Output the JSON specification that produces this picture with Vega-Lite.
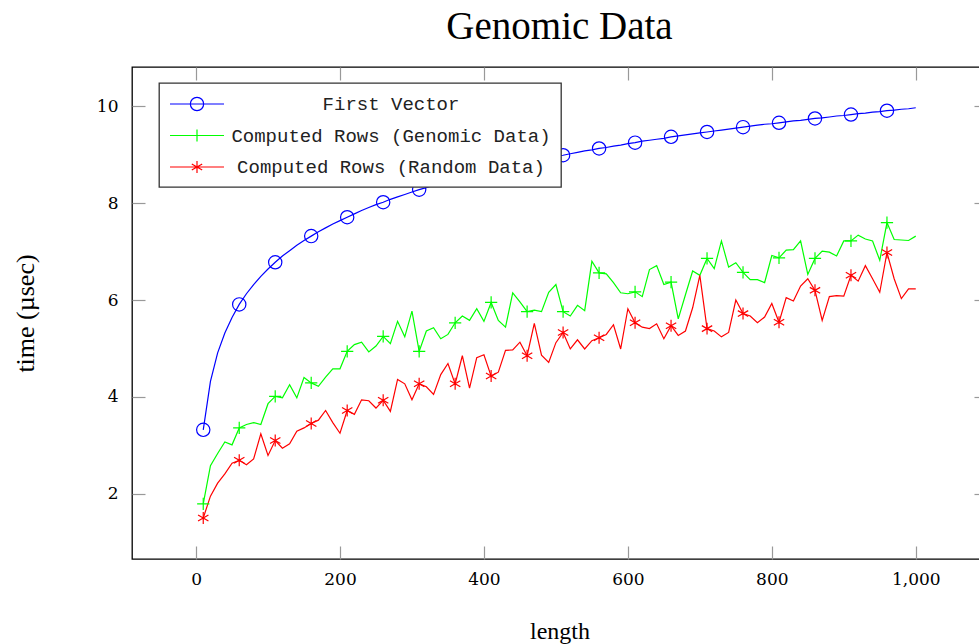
{
  "$schema": "https://vega.github.io/schema/vega-lite/v6.json",
  "width": 855,
  "height": 492,
  "autosize": {"type": "none"},
  "padding": {"left": 132, "top": 67, "right": -8, "bottom": 85},
  "background": "white",
  "title": {"text": "Genomic Data", "font": "Liberation Serif", "fontSize": 39, "fontWeight": "normal", "color": "black", "anchor": "middle", "frame": "group", "baseline": "alphabetic", "offset": -12},
  "config": {
    "view": {"stroke": "black", "strokeWidth": 1.3},
    "axis": {"grid": false, "domain": false, "minExtent": 0, "maxExtent": 200, "tickSize": -13, "tickColor": "#999999", "tickWidth": 1.2, "labelFont": "DejaVu Serif", "labelFontSize": 17, "labelColor": "black", "titleFont": "Liberation Serif", "titleFontSize": 24, "titleFontWeight": "normal", "titleColor": "black"}
  },
  "data": {"values": [
    {"x":10,"s":"First Vector","t":3.32},{"x":20,"s":"First Vector","t":4.32},{"x":30,"s":"First Vector","t":4.91},{"x":40,"s":"First Vector","t":5.32},{"x":50,"s":"First Vector","t":5.64},{"x":60,"s":"First Vector","t":5.91},{"x":70,"s":"First Vector","t":6.13},{"x":80,"s":"First Vector","t":6.32},{"x":90,"s":"First Vector","t":6.49},{"x":100,"s":"First Vector","t":6.64},
    {"x":110,"s":"First Vector","t":6.78},{"x":120,"s":"First Vector","t":6.91},{"x":130,"s":"First Vector","t":7.02},{"x":140,"s":"First Vector","t":7.13},{"x":150,"s":"First Vector","t":7.23},{"x":160,"s":"First Vector","t":7.32},{"x":170,"s":"First Vector","t":7.41},{"x":180,"s":"First Vector","t":7.49},{"x":190,"s":"First Vector","t":7.57},{"x":200,"s":"First Vector","t":7.64},
    {"x":210,"s":"First Vector","t":7.71},{"x":220,"s":"First Vector","t":7.78},{"x":230,"s":"First Vector","t":7.85},{"x":240,"s":"First Vector","t":7.91},{"x":250,"s":"First Vector","t":7.97},{"x":260,"s":"First Vector","t":8.02},{"x":270,"s":"First Vector","t":8.08},{"x":280,"s":"First Vector","t":8.13},{"x":290,"s":"First Vector","t":8.18},{"x":300,"s":"First Vector","t":8.23},
    {"x":310,"s":"First Vector","t":8.28},{"x":320,"s":"First Vector","t":8.32},{"x":330,"s":"First Vector","t":8.37},{"x":340,"s":"First Vector","t":8.41},{"x":350,"s":"First Vector","t":8.45},{"x":360,"s":"First Vector","t":8.49},{"x":370,"s":"First Vector","t":8.53},{"x":380,"s":"First Vector","t":8.57},{"x":390,"s":"First Vector","t":8.61},{"x":400,"s":"First Vector","t":8.64},
    {"x":410,"s":"First Vector","t":8.68},{"x":420,"s":"First Vector","t":8.71},{"x":430,"s":"First Vector","t":8.75},{"x":440,"s":"First Vector","t":8.78},{"x":450,"s":"First Vector","t":8.81},{"x":460,"s":"First Vector","t":8.85},{"x":470,"s":"First Vector","t":8.88},{"x":480,"s":"First Vector","t":8.91},{"x":490,"s":"First Vector","t":8.94},{"x":500,"s":"First Vector","t":8.97},
    {"x":510,"s":"First Vector","t":8.99},{"x":520,"s":"First Vector","t":9.02},{"x":530,"s":"First Vector","t":9.05},{"x":540,"s":"First Vector","t":9.08},{"x":550,"s":"First Vector","t":9.10},{"x":560,"s":"First Vector","t":9.13},{"x":570,"s":"First Vector","t":9.15},{"x":580,"s":"First Vector","t":9.18},{"x":590,"s":"First Vector","t":9.20},{"x":600,"s":"First Vector","t":9.23},
    {"x":610,"s":"First Vector","t":9.25},{"x":620,"s":"First Vector","t":9.28},{"x":630,"s":"First Vector","t":9.30},{"x":640,"s":"First Vector","t":9.32},{"x":650,"s":"First Vector","t":9.34},{"x":660,"s":"First Vector","t":9.37},{"x":670,"s":"First Vector","t":9.39},{"x":680,"s":"First Vector","t":9.41},{"x":690,"s":"First Vector","t":9.43},{"x":700,"s":"First Vector","t":9.45},
    {"x":710,"s":"First Vector","t":9.47},{"x":720,"s":"First Vector","t":9.49},{"x":730,"s":"First Vector","t":9.51},{"x":740,"s":"First Vector","t":9.53},{"x":750,"s":"First Vector","t":9.55},{"x":760,"s":"First Vector","t":9.57},{"x":770,"s":"First Vector","t":9.59},{"x":780,"s":"First Vector","t":9.61},{"x":790,"s":"First Vector","t":9.63},{"x":800,"s":"First Vector","t":9.64},
    {"x":810,"s":"First Vector","t":9.66},{"x":820,"s":"First Vector","t":9.68},{"x":830,"s":"First Vector","t":9.70},{"x":840,"s":"First Vector","t":9.71},{"x":850,"s":"First Vector","t":9.73},{"x":860,"s":"First Vector","t":9.75},{"x":870,"s":"First Vector","t":9.76},{"x":880,"s":"First Vector","t":9.78},{"x":890,"s":"First Vector","t":9.80},{"x":900,"s":"First Vector","t":9.81},
    {"x":910,"s":"First Vector","t":9.83},{"x":920,"s":"First Vector","t":9.85},{"x":930,"s":"First Vector","t":9.86},{"x":940,"s":"First Vector","t":9.88},{"x":950,"s":"First Vector","t":9.89},{"x":960,"s":"First Vector","t":9.91},{"x":970,"s":"First Vector","t":9.92},{"x":980,"s":"First Vector","t":9.94},{"x":990,"s":"First Vector","t":9.95},{"x":1000,"s":"First Vector","t":9.97},

    {"x":10,"s":"Computed Rows (Genomic Data)","t":1.79},{"x":20,"s":"Computed Rows (Genomic Data)","t":2.58},{"x":30,"s":"Computed Rows (Genomic Data)","t":2.83},{"x":40,"s":"Computed Rows (Genomic Data)","t":3.07},{"x":50,"s":"Computed Rows (Genomic Data)","t":3.01},{"x":60,"s":"Computed Rows (Genomic Data)","t":3.36},{"x":70,"s":"Computed Rows (Genomic Data)","t":3.43},{"x":80,"s":"Computed Rows (Genomic Data)","t":3.47},{"x":90,"s":"Computed Rows (Genomic Data)","t":3.43},{"x":100,"s":"Computed Rows (Genomic Data)","t":3.86},
    {"x":110,"s":"Computed Rows (Genomic Data)","t":4.01},{"x":120,"s":"Computed Rows (Genomic Data)","t":3.98},{"x":130,"s":"Computed Rows (Genomic Data)","t":4.25},{"x":140,"s":"Computed Rows (Genomic Data)","t":3.98},{"x":150,"s":"Computed Rows (Genomic Data)","t":4.40},{"x":160,"s":"Computed Rows (Genomic Data)","t":4.29},{"x":170,"s":"Computed Rows (Genomic Data)","t":4.22},{"x":180,"s":"Computed Rows (Genomic Data)","t":4.41},{"x":190,"s":"Computed Rows (Genomic Data)","t":4.58},{"x":200,"s":"Computed Rows (Genomic Data)","t":4.58},
    {"x":210,"s":"Computed Rows (Genomic Data)","t":4.94},{"x":220,"s":"Computed Rows (Genomic Data)","t":5.08},{"x":230,"s":"Computed Rows (Genomic Data)","t":5.13},{"x":240,"s":"Computed Rows (Genomic Data)","t":4.93},{"x":250,"s":"Computed Rows (Genomic Data)","t":5.05},{"x":260,"s":"Computed Rows (Genomic Data)","t":5.25},{"x":270,"s":"Computed Rows (Genomic Data)","t":5.10},{"x":280,"s":"Computed Rows (Genomic Data)","t":5.56},{"x":290,"s":"Computed Rows (Genomic Data)","t":5.24},{"x":300,"s":"Computed Rows (Genomic Data)","t":5.77},
    {"x":310,"s":"Computed Rows (Genomic Data)","t":4.94},{"x":320,"s":"Computed Rows (Genomic Data)","t":5.36},{"x":330,"s":"Computed Rows (Genomic Data)","t":5.43},{"x":340,"s":"Computed Rows (Genomic Data)","t":5.20},{"x":350,"s":"Computed Rows (Genomic Data)","t":5.29},{"x":360,"s":"Computed Rows (Genomic Data)","t":5.53},{"x":370,"s":"Computed Rows (Genomic Data)","t":5.67},{"x":380,"s":"Computed Rows (Genomic Data)","t":5.58},{"x":390,"s":"Computed Rows (Genomic Data)","t":5.82},{"x":400,"s":"Computed Rows (Genomic Data)","t":5.56},
    {"x":410,"s":"Computed Rows (Genomic Data)","t":5.95},{"x":420,"s":"Computed Rows (Genomic Data)","t":5.58},{"x":430,"s":"Computed Rows (Genomic Data)","t":5.44},{"x":440,"s":"Computed Rows (Genomic Data)","t":6.15},{"x":450,"s":"Computed Rows (Genomic Data)","t":5.96},{"x":460,"s":"Computed Rows (Genomic Data)","t":5.76},{"x":470,"s":"Computed Rows (Genomic Data)","t":5.79},{"x":480,"s":"Computed Rows (Genomic Data)","t":5.76},{"x":490,"s":"Computed Rows (Genomic Data)","t":6.16},{"x":500,"s":"Computed Rows (Genomic Data)","t":6.32},
    {"x":510,"s":"Computed Rows (Genomic Data)","t":5.76},{"x":520,"s":"Computed Rows (Genomic Data)","t":5.67},{"x":530,"s":"Computed Rows (Genomic Data)","t":5.89},{"x":540,"s":"Computed Rows (Genomic Data)","t":5.78},{"x":550,"s":"Computed Rows (Genomic Data)","t":6.80},{"x":560,"s":"Computed Rows (Genomic Data)","t":6.56},{"x":570,"s":"Computed Rows (Genomic Data)","t":6.54},{"x":580,"s":"Computed Rows (Genomic Data)","t":6.36},{"x":590,"s":"Computed Rows (Genomic Data)","t":6.15},{"x":600,"s":"Computed Rows (Genomic Data)","t":6.13},
    {"x":610,"s":"Computed Rows (Genomic Data)","t":6.17},{"x":620,"s":"Computed Rows (Genomic Data)","t":6.07},{"x":630,"s":"Computed Rows (Genomic Data)","t":6.63},{"x":640,"s":"Computed Rows (Genomic Data)","t":6.71},{"x":650,"s":"Computed Rows (Genomic Data)","t":6.32},{"x":660,"s":"Computed Rows (Genomic Data)","t":6.37},{"x":670,"s":"Computed Rows (Genomic Data)","t":5.61},{"x":680,"s":"Computed Rows (Genomic Data)","t":6.11},{"x":690,"s":"Computed Rows (Genomic Data)","t":6.60},{"x":700,"s":"Computed Rows (Genomic Data)","t":6.51},
    {"x":710,"s":"Computed Rows (Genomic Data)","t":6.86},{"x":720,"s":"Computed Rows (Genomic Data)","t":6.65},{"x":730,"s":"Computed Rows (Genomic Data)","t":7.22},{"x":740,"s":"Computed Rows (Genomic Data)","t":6.68},{"x":750,"s":"Computed Rows (Genomic Data)","t":6.77},{"x":760,"s":"Computed Rows (Genomic Data)","t":6.57},{"x":770,"s":"Computed Rows (Genomic Data)","t":6.42},{"x":780,"s":"Computed Rows (Genomic Data)","t":6.42},{"x":790,"s":"Computed Rows (Genomic Data)","t":6.36},{"x":800,"s":"Computed Rows (Genomic Data)","t":6.92},
    {"x":810,"s":"Computed Rows (Genomic Data)","t":6.87},{"x":820,"s":"Computed Rows (Genomic Data)","t":7.03},{"x":830,"s":"Computed Rows (Genomic Data)","t":7.04},{"x":840,"s":"Computed Rows (Genomic Data)","t":7.22},{"x":850,"s":"Computed Rows (Genomic Data)","t":6.53},{"x":860,"s":"Computed Rows (Genomic Data)","t":6.86},{"x":870,"s":"Computed Rows (Genomic Data)","t":7.01},{"x":880,"s":"Computed Rows (Genomic Data)","t":6.99},{"x":890,"s":"Computed Rows (Genomic Data)","t":6.91},{"x":900,"s":"Computed Rows (Genomic Data)","t":7.22},
    {"x":910,"s":"Computed Rows (Genomic Data)","t":7.22},{"x":920,"s":"Computed Rows (Genomic Data)","t":7.34},{"x":930,"s":"Computed Rows (Genomic Data)","t":7.26},{"x":940,"s":"Computed Rows (Genomic Data)","t":7.22},{"x":950,"s":"Computed Rows (Genomic Data)","t":6.82},{"x":960,"s":"Computed Rows (Genomic Data)","t":7.60},{"x":970,"s":"Computed Rows (Genomic Data)","t":7.25},{"x":980,"s":"Computed Rows (Genomic Data)","t":7.24},{"x":990,"s":"Computed Rows (Genomic Data)","t":7.23},{"x":1000,"s":"Computed Rows (Genomic Data)","t":7.32},

    {"x":10,"s":"Computed Rows (Random Data)","t":1.50},{"x":20,"s":"Computed Rows (Random Data)","t":1.95},{"x":30,"s":"Computed Rows (Random Data)","t":2.22},{"x":40,"s":"Computed Rows (Random Data)","t":2.41},{"x":50,"s":"Computed Rows (Random Data)","t":2.63},{"x":60,"s":"Computed Rows (Random Data)","t":2.69},{"x":70,"s":"Computed Rows (Random Data)","t":2.60},{"x":80,"s":"Computed Rows (Random Data)","t":2.72},{"x":90,"s":"Computed Rows (Random Data)","t":3.24},{"x":100,"s":"Computed Rows (Random Data)","t":2.79},
    {"x":110,"s":"Computed Rows (Random Data)","t":3.10},{"x":120,"s":"Computed Rows (Random Data)","t":2.94},{"x":130,"s":"Computed Rows (Random Data)","t":3.03},{"x":140,"s":"Computed Rows (Random Data)","t":3.29},{"x":150,"s":"Computed Rows (Random Data)","t":3.36},{"x":160,"s":"Computed Rows (Random Data)","t":3.45},{"x":170,"s":"Computed Rows (Random Data)","t":3.52},{"x":180,"s":"Computed Rows (Random Data)","t":3.72},{"x":190,"s":"Computed Rows (Random Data)","t":3.47},{"x":200,"s":"Computed Rows (Random Data)","t":3.25},
    {"x":210,"s":"Computed Rows (Random Data)","t":3.72},{"x":220,"s":"Computed Rows (Random Data)","t":3.64},{"x":230,"s":"Computed Rows (Random Data)","t":3.94},{"x":240,"s":"Computed Rows (Random Data)","t":3.92},{"x":250,"s":"Computed Rows (Random Data)","t":3.77},{"x":260,"s":"Computed Rows (Random Data)","t":3.93},{"x":270,"s":"Computed Rows (Random Data)","t":3.70},{"x":280,"s":"Computed Rows (Random Data)","t":4.36},{"x":290,"s":"Computed Rows (Random Data)","t":4.27},{"x":300,"s":"Computed Rows (Random Data)","t":3.94},
    {"x":310,"s":"Computed Rows (Random Data)","t":4.27},{"x":320,"s":"Computed Rows (Random Data)","t":4.21},{"x":330,"s":"Computed Rows (Random Data)","t":4.05},{"x":340,"s":"Computed Rows (Random Data)","t":4.46},{"x":350,"s":"Computed Rows (Random Data)","t":4.69},{"x":360,"s":"Computed Rows (Random Data)","t":4.27},{"x":370,"s":"Computed Rows (Random Data)","t":4.85},{"x":380,"s":"Computed Rows (Random Data)","t":4.18},{"x":390,"s":"Computed Rows (Random Data)","t":4.81},{"x":400,"s":"Computed Rows (Random Data)","t":4.87},
    {"x":410,"s":"Computed Rows (Random Data)","t":4.43},{"x":420,"s":"Computed Rows (Random Data)","t":4.51},{"x":430,"s":"Computed Rows (Random Data)","t":4.96},{"x":440,"s":"Computed Rows (Random Data)","t":4.97},{"x":450,"s":"Computed Rows (Random Data)","t":5.13},{"x":460,"s":"Computed Rows (Random Data)","t":4.85},{"x":470,"s":"Computed Rows (Random Data)","t":5.52},{"x":480,"s":"Computed Rows (Random Data)","t":4.86},{"x":490,"s":"Computed Rows (Random Data)","t":4.71},{"x":500,"s":"Computed Rows (Random Data)","t":5.12},
    {"x":510,"s":"Computed Rows (Random Data)","t":5.33},{"x":520,"s":"Computed Rows (Random Data)","t":4.99},{"x":530,"s":"Computed Rows (Random Data)","t":5.18},{"x":540,"s":"Computed Rows (Random Data)","t":4.99},{"x":550,"s":"Computed Rows (Random Data)","t":5.16},{"x":560,"s":"Computed Rows (Random Data)","t":5.22},{"x":570,"s":"Computed Rows (Random Data)","t":5.29},{"x":580,"s":"Computed Rows (Random Data)","t":5.49},{"x":590,"s":"Computed Rows (Random Data)","t":4.99},{"x":600,"s":"Computed Rows (Random Data)","t":5.82},
    {"x":610,"s":"Computed Rows (Random Data)","t":5.53},{"x":620,"s":"Computed Rows (Random Data)","t":5.44},{"x":630,"s":"Computed Rows (Random Data)","t":5.41},{"x":640,"s":"Computed Rows (Random Data)","t":5.51},{"x":650,"s":"Computed Rows (Random Data)","t":5.20},{"x":660,"s":"Computed Rows (Random Data)","t":5.47},{"x":670,"s":"Computed Rows (Random Data)","t":5.27},{"x":680,"s":"Computed Rows (Random Data)","t":5.36},{"x":690,"s":"Computed Rows (Random Data)","t":5.84},{"x":700,"s":"Computed Rows (Random Data)","t":6.51},
    {"x":710,"s":"Computed Rows (Random Data)","t":5.41},{"x":720,"s":"Computed Rows (Random Data)","t":5.36},{"x":730,"s":"Computed Rows (Random Data)","t":5.24},{"x":740,"s":"Computed Rows (Random Data)","t":5.33},{"x":750,"s":"Computed Rows (Random Data)","t":6.00},{"x":760,"s":"Computed Rows (Random Data)","t":5.72},{"x":770,"s":"Computed Rows (Random Data)","t":5.67},{"x":780,"s":"Computed Rows (Random Data)","t":5.53},{"x":790,"s":"Computed Rows (Random Data)","t":5.65},{"x":800,"s":"Computed Rows (Random Data)","t":5.93},
    {"x":810,"s":"Computed Rows (Random Data)","t":5.54},{"x":820,"s":"Computed Rows (Random Data)","t":6.05},{"x":830,"s":"Computed Rows (Random Data)","t":5.98},{"x":840,"s":"Computed Rows (Random Data)","t":6.29},{"x":850,"s":"Computed Rows (Random Data)","t":6.44},{"x":860,"s":"Computed Rows (Random Data)","t":6.20},{"x":870,"s":"Computed Rows (Random Data)","t":5.58},{"x":880,"s":"Computed Rows (Random Data)","t":6.07},{"x":890,"s":"Computed Rows (Random Data)","t":6.09},{"x":900,"s":"Computed Rows (Random Data)","t":6.08},
    {"x":910,"s":"Computed Rows (Random Data)","t":6.51},{"x":920,"s":"Computed Rows (Random Data)","t":6.39},{"x":930,"s":"Computed Rows (Random Data)","t":6.71},{"x":940,"s":"Computed Rows (Random Data)","t":6.44},{"x":950,"s":"Computed Rows (Random Data)","t":6.16},{"x":960,"s":"Computed Rows (Random Data)","t":6.98},{"x":970,"s":"Computed Rows (Random Data)","t":6.44},{"x":980,"s":"Computed Rows (Random Data)","t":6.03},{"x":990,"s":"Computed Rows (Random Data)","t":6.23},{"x":1000,"s":"Computed Rows (Random Data)","t":6.23}
  ]},
  "layer": [
    {
      "mark": {"type": "line", "strokeWidth": 1.2, "clip": true},
      "encoding": {
        "x": {"field": "x", "type": "quantitative", "scale": {"domain": [-89, 1099], "nice": false, "zero": false},
              "axis": {"orient": "bottom", "values": [0, 200, 400, 600, 800, 1000], "labelPadding": 25, "title": "length", "titleY": 79, "titleBaseline": "alphabetic"}},
        "y": {"field": "t", "type": "quantitative", "scale": {"domain": [0.653, 10.812], "nice": false, "zero": false},
              "axis": {"orient": "left", "values": [2, 4, 6, 8, 10], "labelPadding": 27, "title": "time (µsec)", "titleFontSize": 26, "titleX": -99, "titleBaseline": "alphabetic"}},
        "color": {"field": "s", "type": "nominal", "sort": null,
                  "scale": {"domain": ["First Vector", "Computed Rows (Genomic Data)", "Computed Rows (Random Data)"], "range": ["#0000ff", "#00ff00", "#ff0000"]},
                  "legend": {"orient": "none", "legendX": 27, "legendY": 16, "title": null, "padding": 10,
                             "fillColor": "white", "strokeColor": "#333333",
                             "symbolSize": 400, "symbolStrokeWidth": 1.2, "rowPadding": 10.5,
                             "labelFont": "Liberation Mono", "labelFontSize": 19, "labelColor": "#222222", "labelAlign": "center", "labelOffset": 200, "labelLimit": 600,
                             "encode": {
                               "legend": {"update": {"strokeWidth": {"value": 1.3}}},
                               "symbols": {"update": {
                               "fill": {"value": "transparent"},
                               "shape": {"signal": "datum.value === 'First Vector' ? 'M-1,0H4.4M2.365,0A0.665,0.665 0 1,1 1.035,0A0.665,0.665 0 1,1 2.365,0' : datum.value === 'Computed Rows (Genomic Data)' ? 'M-1,0H4.4M1.7,-0.61V0.61' : 'M-1,0H4.4M1.7,-0.6V0.6M1.18,-0.3L2.22,0.3M1.18,0.3L2.22,-0.3'"}
                             }}}}}
      }
    },
    {
      "transform": [{"filter": "(datum.x - 10) % 50 === 0 && datum.s === 'First Vector'"}],
      "mark": {"type": "point", "filled": false, "strokeWidth": 1.2, "size": 177, "opacity": 1, "clip": true, "shape": "M1,0A1,1 0 1,1 -1,0A1,1 0 1,1 1,0"},
      "encoding": {
        "x": {"field": "x", "type": "quantitative", "axis": {"orient": "top", "values": [0, 200, 400, 600, 800, 1000], "labels": false, "title": null}},
        "y": {"field": "t", "type": "quantitative", "axis": {"orient": "right", "values": [2, 4, 6, 8, 10], "labels": false, "title": null}},
        "color": {"field": "s", "type": "nominal", "sort": null}
      }
    },
    {
      "transform": [{"filter": "(datum.x - 10) % 50 === 0 && datum.s === 'Computed Rows (Genomic Data)'"}],
      "mark": {"type": "point", "filled": false, "strokeWidth": 1.2, "size": 177, "opacity": 1, "clip": true, "shape": "M-0.92,0H0.92M0,-0.92V0.92"},
      "encoding": {
        "x": {"field": "x", "type": "quantitative", "axis": null},
        "y": {"field": "t", "type": "quantitative", "axis": null},
        "color": {"field": "s", "type": "nominal", "sort": null}
      }
    },
    {
      "transform": [{"filter": "(datum.x - 10) % 50 === 0 && datum.s === 'Computed Rows (Random Data)'"}],
      "mark": {"type": "point", "filled": false, "strokeWidth": 1.2, "size": 177, "opacity": 1, "clip": true, "shape": "M0,-0.9V0.9M-0.78,-0.45L0.78,0.45M-0.78,0.45L0.78,-0.45"},
      "encoding": {
        "x": {"field": "x", "type": "quantitative", "axis": null},
        "y": {"field": "t", "type": "quantitative", "axis": null},
        "color": {"field": "s", "type": "nominal", "sort": null}
      }
    }
  ],
  "resolve": {"axis": {"x": "independent", "y": "independent"}}
}
